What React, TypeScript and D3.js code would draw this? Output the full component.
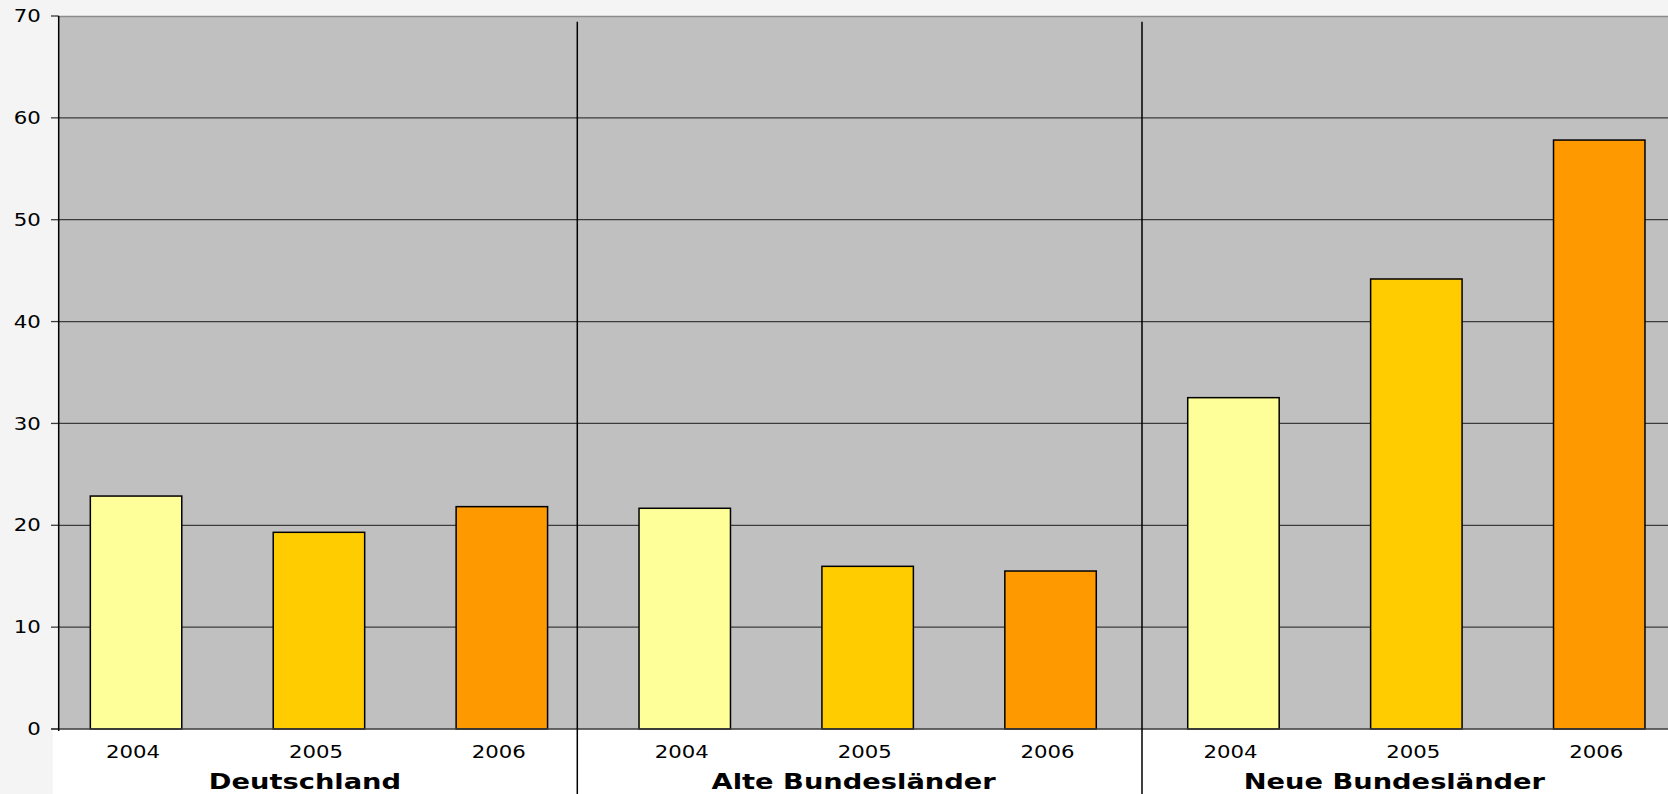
import React from "react";
import * as d3 from "d3";

const groups = ["Deutschland", "Alte Bundesländer", "Neue Bundesländer"];
const years = ["2004", "2005", "2006"];
const valuesDeutschland = [22.87, 19.31, 21.83];
const valuesAlte = [21.67, 15.97, 15.51];
const valuesNeue = [32.53, 44.18, 57.82];
const seriesValues = [valuesDeutschland, valuesAlte, valuesNeue];
const yearColors = ["#ffff99", "#ffcc00", "#ff9900"];
const yTicks = [0, 10, 20, 30, 40, 50, 60, 70];

const W = 1668;
const H = 794;
const plotLeft = 58.7;
const plotTop = 16;
const plotBottom = 729;
const FONT = "'DejaVu Sans', Verdana, sans-serif";

export default function App() {
  const keys: string[] = [];
  groups.forEach((g) => years.forEach((yv) => keys.push(g + "|" + yv)));
  const x = d3
    .scaleBand<string>()
    .domain(keys)
    .range([44.6, 1690.7])
    .paddingInner(0.5)
    .paddingOuter(0.25);
  const y = d3.scaleLinear().domain([0, 70]).range([plotBottom, plotTop]);
  const bw = x.bandwidth();

  const bars: { key: string; v: number; c: string }[] = [];
  groups.forEach((g, gi) =>
    years.forEach((yv, yi) =>
      bars.push({ key: g + "|" + yv, v: seriesValues[gi][yi], c: yearColors[yi] })
    )
  );

  const dividers: number[] = [];
  for (let gi = 0; gi < groups.length - 1; gi++) {
    const a = (x(groups[gi] + "|" + years[years.length - 1]) as number) + bw / 2;
    const b = (x(groups[gi + 1] + "|" + years[0]) as number) + bw / 2;
    dividers.push((a + b) / 2 - (gi === 0 ? 16 : 0));
  }
  const labelShift = [-14, -14, -22];

  return (
    <svg
      width={W}
      height={H}
      style={{ position: "absolute", left: 0, top: 0, display: "block" }}
      fontFamily={FONT}
    >
      <rect x={0} y={0} width={W} height={H} fill="#f4f4f4" />
      <rect x={52.7} y={730} width={W - 52.7} height={H - 730} fill="#ffffff" />
      <rect x={plotLeft} y={plotTop} width={W - plotLeft} height={plotBottom - plotTop} fill="#c0c0c0" />
      <line x1={plotLeft} x2={W} y1={plotTop + 0.5} y2={plotTop + 0.5} stroke="#8c8c8c" strokeWidth={1.5} />
      {yTicks.map((t) => (
        <g key={t}>
          {t > 0 && t < 70 && (
            <line x1={plotLeft} x2={W} y1={y(t)} y2={y(t)} stroke="#3c3c3c" strokeWidth={1.3} />
          )}
          <line x1={51} x2={plotLeft} y1={y(t)} y2={y(t)} stroke="#3c3c3c" strokeWidth={1.3} />
          <text
            transform={`translate(${40.7},${y(t) + 6.2}) scale(1.25,1)`}
            textAnchor="end"
            fontSize={17}
            fill="#000"
          >
            {t}
          </text>
        </g>
      ))}
      {bars.map((b) => (
        <rect
          key={b.key}
          x={x(b.key)}
          y={y(b.v)}
          width={bw}
          height={y(0) - y(b.v)}
          fill={b.c}
          stroke="#000"
          strokeWidth={1.5}
        />
      ))}
      <line x1={51} x2={W} y1={plotBottom} y2={plotBottom} stroke="#3c3c3c" strokeWidth={1.5} />
      <line x1={plotLeft} x2={plotLeft} y1={plotTop} y2={731} stroke="#000" strokeWidth={1.5} />
      {dividers.map((d, i) => (
        <line key={i} x1={d} x2={d} y1={21.7} y2={H} stroke="#000" strokeWidth={1.5} />
      ))}
      {bars.map((b) => (
        <text
          key={"l" + b.key}
          transform={`translate(${(x(b.key) as number) + bw / 2 - 3},${758.3}) scale(1.25,1)`}
          textAnchor="middle"
          fontSize={17}
          fill="#000"
        >
          {b.key.split("|")[1]}
        </text>
      ))}
      {groups.map((g, gi) => (
        <text
          key={"g" + g}
          transform={`translate(${(x(g + "|" + years[1]) as number) + bw / 2 + labelShift[gi]},${788.5}) scale(1.3,1)`}
          textAnchor="middle"
          fontSize={21}
          fontWeight="bold"
          fill="#000"
        >
          {g}
        </text>
      ))}
    </svg>
  );
}
